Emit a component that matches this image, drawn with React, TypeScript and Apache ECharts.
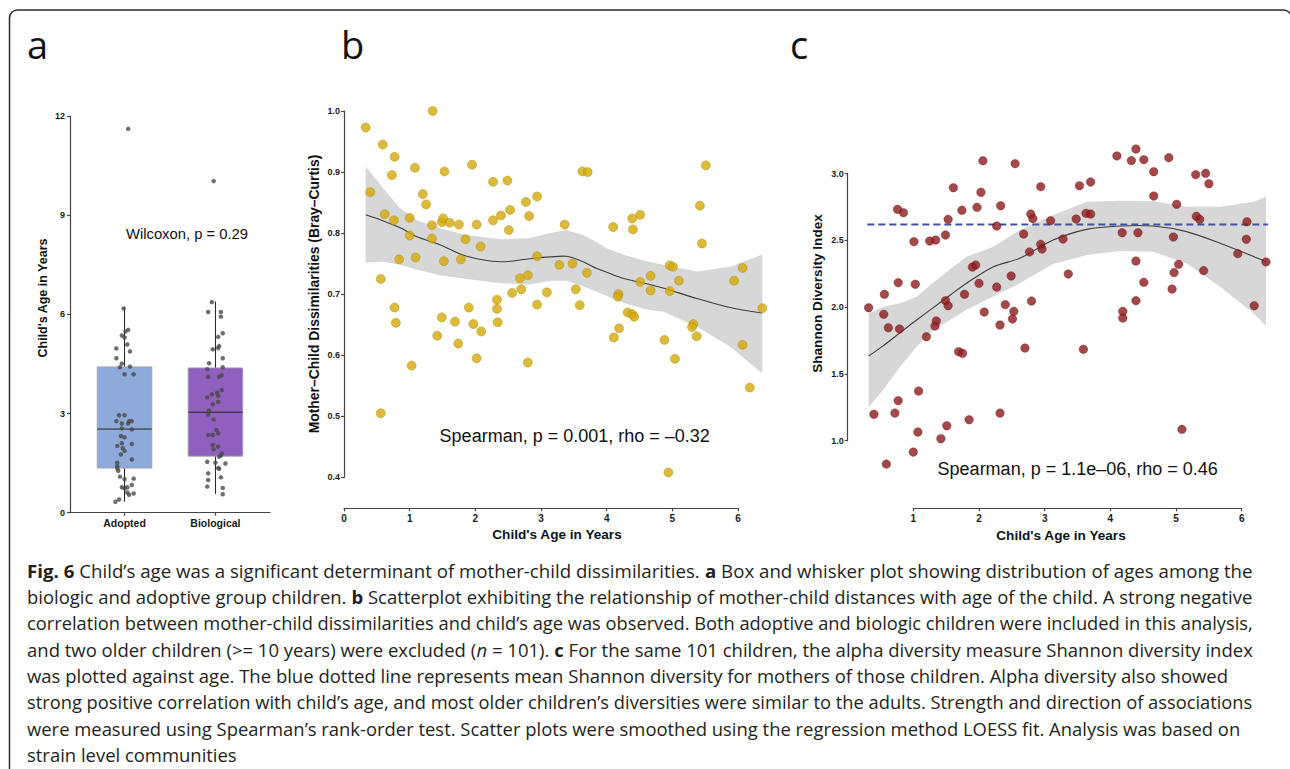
import React, { useEffect, useRef } from 'react';
import * as echarts from 'echarts';

// ---------- Panel a: child's age by group ----------
const groupCats = ['Adopted', 'Biological'];
// [position, lower whisker, Q1, median, Q3, upper whisker]
const boxStats = [
  [1, 0.33, 1.35, 2.53, 4.41, 6.21],
  [2, 0.57, 1.71, 3.04, 4.38, 6.39],
];
const boxColors = ['#8EAADB', '#9160BF'];
const adoptedPts = [
  [0.99, 6.18], [1.04, 5.53], [1.01, 5.48], [0.97, 5.36], [1.0, 5.3], [1.03, 5.09], [0.91, 4.97], [1.06, 4.88],
  [0.91, 4.67], [0.97, 4.51], [0.95, 4.4], [1.06, 4.42], [1.0, 4.19], [1.1, 4.19], [0.94, 2.95], [1.0, 2.95],
  [0.91, 2.77], [0.97, 2.7], [1.04, 2.7], [1.05, 2.77], [1.08, 2.77], [0.97, 2.55], [1.08, 2.52], [0.96, 2.32],
  [1.0, 2.28], [1.08, 2.08], [0.97, 2.1], [0.92, 2.02], [0.98, 1.95], [1.0, 1.87], [0.96, 1.76], [1.08, 1.61],
  [0.92, 1.51], [0.92, 1.41], [0.92, 1.34], [0.93, 1.27], [0.95, 1.09], [1.0, 1.01], [1.1, 1.03], [0.97, 0.77],
  [1.0, 0.74], [1.03, 0.77], [1.08, 0.84], [1.03, 0.61], [1.1, 0.58], [1.05, 0.54], [0.94, 0.4], [0.9, 0.33],
  [1.04, 11.61],
];
const biologicalPts = [
  [1.96, 6.37], [1.92, 6.07], [2.06, 6.07], [2.06, 5.93], [2.08, 5.43], [2.03, 5.32], [2.04, 5.04], [2.03, 4.98],
  [1.97, 4.94], [2.08, 4.67], [1.93, 4.52], [1.91, 4.34], [2.08, 4.4], [2.07, 4.16], [2.04, 4.11], [1.92, 4.11],
  [2.07, 3.71], [2.02, 3.63], [2.03, 3.53], [1.96, 3.58], [1.91, 3.49], [2.03, 3.35], [1.97, 3.28], [1.93, 3.09],
  [1.92, 2.97], [1.98, 2.82], [2.01, 2.5], [2.03, 2.4], [1.92, 2.35], [1.97, 2.35], [1.97, 2.05], [2.03, 2.0],
  [1.98, 1.92], [2.07, 1.79], [2.06, 1.73], [2.04, 1.69], [1.91, 1.54], [2.0, 1.51], [2.11, 1.49], [2.03, 1.35],
  [2.04, 1.33], [1.92, 1.19], [1.92, 0.99], [2.06, 1.07], [1.91, 0.79], [2.08, 0.75], [2.08, 0.56], [1.98, 10.03],
];
const ageTicksA = [0, 3, 6, 9, 12];

// ---------- Panel b: mother-child dissimilarity vs age ----------
const dissimPts = [
  [0.33, 0.973], [0.4, 0.867], [0.59, 0.945], [0.77, 0.925], [0.73, 0.895], [0.62, 0.831], [0.76, 0.821], [0.56, 0.725],
  [0.84, 0.757], [0.77, 0.678], [1.08, 0.907], [1.2, 0.864], [1.25, 0.847], [1.0, 0.825], [1.0, 0.796], [1.09, 0.76],
  [1.35, 1.0], [1.53, 0.901], [1.34, 0.813], [1.34, 0.791], [1.49, 0.818], [1.51, 0.824], [1.61, 0.817], [1.52, 0.754],
  [1.75, 0.814], [1.85, 0.79], [1.95, 0.912], [1.78, 0.757], [2.02, 0.814], [2.08, 0.778], [1.9, 0.678], [2.27, 0.884],
  [2.27, 0.821], [2.39, 0.829], [2.49, 0.886], [2.53, 0.838], [2.51, 0.805], [2.33, 0.691], [2.33, 0.676], [2.56, 0.702],
  [2.68, 0.726], [2.7, 0.708], [2.8, 0.731], [2.77, 0.851], [2.82, 0.828], [2.94, 0.86], [2.94, 0.762], [2.94, 0.683],
  [3.63, 0.901], [3.71, 0.9], [3.36, 0.814], [3.28, 0.748], [3.48, 0.75], [3.7, 0.735], [3.53, 0.708], [3.09, 0.703],
  [3.59, 0.682], [4.1, 0.81], [4.39, 0.824], [4.51, 0.83], [4.4, 0.806], [4.51, 0.72], [4.67, 0.73], [4.67, 0.706],
  [4.96, 0.747], [5.01, 0.745], [5.1, 0.722], [4.96, 0.705], [4.18, 0.7], [4.17, 0.696], [5.42, 0.845], [5.51, 0.911],
  [5.45, 0.783], [5.94, 0.722], [6.07, 0.743], [6.37, 0.677], [4.32, 0.67], [4.39, 0.667], [4.42, 0.663], [4.19, 0.644],
  [4.11, 0.629], [4.88, 0.625], [5.04, 0.594], [5.32, 0.651], [5.3, 0.646], [5.37, 0.631], [6.07, 0.617], [6.18, 0.547],
  [4.94, 0.408], [0.79, 0.653], [1.03, 0.583], [0.56, 0.505], [1.42, 0.632], [1.49, 0.662], [1.74, 0.619], [1.69, 0.655],
  [1.97, 0.651], [2.09, 0.639], [2.02, 0.595], [2.34, 0.654], [2.8, 0.588],
];
const loessBX = [0.33, 0.6, 0.85, 1.11, 1.46, 1.87, 2.38, 2.83, 3.14, 3.39, 3.64, 3.85, 4.0, 4.25, 4.61, 4.86, 5.37, 5.88, 6.37];
const loessBMid = [0.83, 0.82, 0.809, 0.794, 0.781, 0.762, 0.753, 0.758, 0.761, 0.762, 0.753, 0.742, 0.736, 0.726, 0.717, 0.71, 0.693, 0.678, 0.669];
const loessBHigh = [0.909, 0.873, 0.841, 0.821, 0.808, 0.797, 0.79, 0.792, 0.8, 0.805, 0.797, 0.785, 0.775, 0.765, 0.754, 0.748, 0.737, 0.745, 0.765];
const loessBLow = [0.752, 0.753, 0.748, 0.74, 0.731, 0.725, 0.718, 0.716, 0.722, 0.722, 0.713, 0.704, 0.697, 0.686, 0.675, 0.671, 0.647, 0.614, 0.57];

// ---------- Panel c: Shannon diversity vs age ----------
const shannonPts = [
  [0.32, 1.996], [0.56, 2.097], [0.55, 1.947], [0.62, 1.846], [0.79, 1.837], [0.76, 2.733], [0.85, 2.708], [0.77, 2.184],
  [1.01, 2.491], [1.03, 2.172], [1.25, 2.496], [1.34, 2.503], [1.49, 2.541], [1.53, 2.658], [1.61, 2.895], [1.49, 2.049],
  [1.53, 2.011], [1.35, 1.897], [1.33, 1.859], [1.2, 1.779], [1.74, 2.726], [1.78, 2.097], [1.9, 2.301], [1.95, 2.316],
  [2.0, 2.179], [2.08, 1.964], [1.97, 2.748], [2.03, 2.861], [2.06, 3.097], [2.27, 2.608], [2.33, 2.76], [2.27, 2.151],
  [2.4, 2.019], [2.32, 1.867], [2.49, 2.234], [2.53, 1.969], [2.51, 1.912], [2.55, 3.075], [2.68, 2.548], [2.79, 2.698],
  [2.82, 2.663], [2.77, 2.414], [2.8, 2.046], [2.7, 1.694], [1.69, 1.667], [1.75, 1.655], [1.08, 1.372], [0.77, 1.3],
  [0.72, 1.207], [0.4, 1.198], [1.07, 1.065], [1.51, 1.112], [1.42, 1.015], [1.0, 0.915], [0.59, 0.825], [1.85, 1.157],
  [2.32, 1.207], [2.94, 2.903], [2.94, 2.471], [2.96, 2.436], [3.09, 2.648], [3.28, 2.511], [3.36, 2.249], [3.48, 2.661],
  [3.53, 2.91], [3.63, 2.703], [3.7, 2.698], [3.7, 2.938], [4.1, 3.133], [4.32, 3.098], [4.39, 3.185], [4.51, 3.105],
  [4.89, 3.12], [4.66, 3.015], [4.66, 2.833], [5.01, 2.771], [5.3, 2.993], [5.45, 3.003], [5.5, 2.925], [5.31, 2.681],
  [5.36, 2.658], [4.18, 2.558], [4.42, 2.558], [4.96, 2.526], [6.08, 2.64], [6.07, 2.509], [5.94, 2.401], [4.39, 2.346],
  [5.04, 2.321], [4.97, 2.259], [5.42, 2.274], [4.51, 2.186], [4.94, 2.136], [4.39, 2.049], [4.19, 1.969], [4.19, 1.919],
  [6.19, 2.011], [3.59, 1.685], [5.09, 1.085], [6.37, 2.339],
];
const loessCX = [0.32, 0.54, 0.8, 1.05, 1.3, 1.56, 1.81, 2.22, 2.62, 3.13, 3.64, 4.15, 4.65, 5.16, 5.67, 6.18, 6.37];
const loessCMid = [1.634, 1.71, 1.81, 1.904, 1.995, 2.09, 2.179, 2.303, 2.366, 2.503, 2.583, 2.608, 2.608, 2.566, 2.479, 2.38, 2.34];
const loessCHigh = [1.954, 2.004, 2.029, 2.079, 2.183, 2.285, 2.378, 2.453, 2.578, 2.691, 2.79, 2.798, 2.796, 2.753, 2.753, 2.79, 2.83];
const loessCLow = [1.25, 1.38, 1.554, 1.704, 1.829, 1.904, 1.98, 2.08, 2.179, 2.324, 2.391, 2.421, 2.416, 2.329, 2.154, 1.954, 1.86];
const motherMeanShannon = 2.62;
const meanLineRange = [0.3, 6.4];

// ---------- Caption ----------
const captionLines = [
  '{b|Fig. 6} Child’s age was a significant determinant of mother-child dissimilarities. {b|a} Box and whisker plot showing distribution of ages among the',
  'biologic and adoptive group children. {b|b} Scatterplot exhibiting the relationship of mother-child distances with age of the child. A strong negative',
  'correlation between mother-child dissimilarities and child’s age was observed. Both adoptive and biologic children were included in this analysis,',
  'and two older children (>= 10 years) were excluded ({i|n} = 101). {b|c} For the same 101 children, the alpha diversity measure Shannon diversity index',
  'was plotted against age. The blue dotted line represents mean Shannon diversity for mothers of those children. Alpha diversity also showed',
  'strong positive correlation with child’s age, and most older children’s diversities were similar to the adults. Strength and direction of associations',
  'were measured using Spearman’s rank-order test. Scatter plots were smoothed using the regression method LOESS fit. Analysis was based on',
  'strain level communities',
];
const captionRightEdges = [1253, 1253, 1254, 1253, 1228, 1253, 1241, 0];

const CAP_FONT = 'Open Sans';
const CAP_SIZE = 17.5;
const AX_FONT = 'Liberation Sans';

function measureLine(ctx: CanvasRenderingContext2D, line: string): number {
  let total = 0;
  const re = /\{(b|i)\|([^}]*)\}/g;
  let last = 0;
  let m: RegExpExecArray | null;
  const seg = (t: string, style: string) => {
    ctx.font = `${style} ${CAP_SIZE}px "${CAP_FONT}"`;
    total += ctx.measureText(t).width;
  };
  while ((m = re.exec(line))) {
    if (m.index > last) seg(line.slice(last, m.index), 'normal');
    seg(m[2], m[1] === 'b' ? 'bold' : 'italic');
    last = m.index + m[0].length;
  }
  if (last < line.length) seg(line.slice(last), 'normal');
  return total;
}

const axisLineStyle = { color: '#444', width: 1.2 };
const tickLabel = { color: '#1a1a1a', fontWeight: 'bold' as const, fontFamily: AX_FONT, fontSize: 9.5 };

export default function App() {
  const ref = useRef<HTMLDivElement>(null);
  useEffect(() => {
    if (!ref.current) return;
    const chart = echarts.init(ref.current, undefined, { renderer: 'svg' });

    const canvas = document.createElement('canvas');
    const ctx = canvas.getContext('2d')!;
    const natural = captionLines.map((l) => measureLine(ctx, l));
    const scales = captionLines.map((l, i) => {
      const r = captionRightEdges[i];
      return r > 0 ? (r - 27) / natural[i] : 0;
    });
    const valid = scales.filter((s) => s > 0);
    const avgScale = valid.reduce((a, b) => a + b, 0) / valid.length;

    const captionGraphics = captionLines.map((line, i) => ({
      type: 'text',
      x: 27,
      y: 571 + i * 26.3,
      scaleX: scales[i] > 0 ? scales[i] : avgScale,
      style: {
        text: line,
        fontFamily: CAP_FONT,
        fontSize: CAP_SIZE,
        fill: '#231f20',
        align: 'left',
        verticalAlign: 'middle',
        rich: {
          b: { fontWeight: 'bold', fontFamily: CAP_FONT, fontSize: CAP_SIZE, fill: '#231f20' },
          i: { fontStyle: 'italic', fontFamily: CAP_FONT, fontSize: CAP_SIZE, fill: '#231f20' },
        },
      },
    }));

    const bandRender = (xs: number[], lo: number[], hi: number[]) => (params: any, api: any) => {
      const pts: number[][] = [];
      xs.forEach((x, i) => pts.push(api.coord([x, hi[i]])));
      for (let i = xs.length - 1; i >= 0; i--) pts.push(api.coord([xs[i], lo[i]]));
      return { type: 'polygon', shape: { points: pts }, style: { fill: '#D7D7D7' } };
    };
    const lineRender = (xs: number[], ys: number[], style: any, smooth: number) => (params: any, api: any) => ({
      type: 'polyline',
      shape: { points: xs.map((x, i) => api.coord([x, ys[i]])), smooth },
      style: { fill: 'none', ...style },
    });

    const option: any = {
      animation: false,
      backgroundColor: '#ffffff',
      grid: [
        { left: 70, top: 116, width: 200, height: 396.7 },
        { left: 344, top: 111, width: 394, height: 366.3 },
        { left: 913.3, top: 173.7, width: 328.4, height: 267 },
      ],
      xAxis: [
        {
          gridIndex: 0, type: 'value', min: 0.4, max: 2.6,
          axisLine: { lineStyle: axisLineStyle },
          axisTick: { show: true, length: 3, lineStyle: axisLineStyle, customValues: [1, 2] },
          axisLabel: { ...tickLabel, fontSize: 10.5, margin: 5, customValues: [1, 2], formatter: (v: number) => groupCats[Math.round(v) - 1] ?? '' },
          splitLine: { show: false },
        },
        {
          gridIndex: 1, type: 'value', min: 0, max: 6, interval: 1, offset: 31,
          axisLine: { lineStyle: axisLineStyle },
          axisTick: { length: 3, lineStyle: axisLineStyle },
          axisLabel: { ...tickLabel, fontSize: 10, margin: 5 },
          splitLine: { show: false },
        },
        {
          gridIndex: 2, type: 'value', min: 1, max: 6, interval: 1, offset: 67.6,
          axisLine: { lineStyle: axisLineStyle },
          axisTick: { length: 3, lineStyle: axisLineStyle },
          axisLabel: { ...tickLabel, fontSize: 10, margin: 5 },
          splitLine: { show: false },
        },
      ],
      yAxis: [
        {
          gridIndex: 0, type: 'value', min: 0, max: 12, interval: 3,
          axisLine: { show: true, lineStyle: axisLineStyle },
          axisTick: { show: true, length: 3, lineStyle: axisLineStyle },
          axisLabel: { ...tickLabel, fontSize: 9, margin: 5, formatter: (v: number) => (ageTicksA.includes(v) ? String(v) : '') },
          splitLine: { show: false },
        },
        {
          gridIndex: 1, type: 'value', min: 0.4, max: 1.0, interval: 0.1,
          axisLine: { show: true, lineStyle: axisLineStyle },
          axisTick: { show: true, length: 3, lineStyle: axisLineStyle },
          axisLabel: { ...tickLabel, fontSize: 9, margin: 4, formatter: (v: number) => v.toFixed(1) },
          splitLine: { show: false },
        },
        {
          gridIndex: 2, type: 'value', min: 1, max: 3, interval: 0.5, offset: 65.6,
          axisLine: { show: true, lineStyle: axisLineStyle },
          axisTick: { show: true, length: 3, lineStyle: axisLineStyle },
          axisLabel: { ...tickLabel, fontSize: 9, margin: 4, formatter: (v: number) => v.toFixed(1) },
          splitLine: { show: false },
        },
      ],
      series: [
        // Panel a boxes
        {
          type: 'custom', xAxisIndex: 0, yAxisIndex: 0, z: 2, silent: true,
          data: boxStats,
          encode: { x: 0, y: [1, 2, 3, 4, 5] },
          renderItem: (params: any, api: any) => {
            const pos = api.value(0);
            const lo = api.coord([pos, api.value(1)]);
            const q1 = api.coord([pos, api.value(2)]);
            const med = api.coord([pos, api.value(3)]);
            const q3 = api.coord([pos, api.value(4)]);
            const hi = api.coord([pos, api.value(5)]);
            const w = api.size([0.6, 0])[0];
            const x0 = q1[0] - w / 2;
            return {
              type: 'group',
              children: [
                { type: 'line', shape: { x1: hi[0], y1: hi[1], x2: q3[0], y2: q3[1] }, style: { stroke: '#222', lineWidth: 1 } },
                { type: 'line', shape: { x1: lo[0], y1: lo[1], x2: q1[0], y2: q1[1] }, style: { stroke: '#222', lineWidth: 1 } },
                {
                  type: 'rect',
                  shape: { x: x0, y: q3[1], width: w, height: q1[1] - q3[1] },
                  style: { fill: boxColors[params.dataIndex], stroke: 'rgba(160,160,170,0.9)', lineWidth: 1 },
                },
                { type: 'line', shape: { x1: x0, y1: med[1], x2: x0 + w, y2: med[1] }, style: { stroke: '#222', lineWidth: 1 } },
              ],
            };
          },
        },
        {
          type: 'scatter', xAxisIndex: 0, yAxisIndex: 0, z: 3, silent: true,
          data: [...adoptedPts, ...biologicalPts],
          symbolSize: 4.5,
          itemStyle: { color: '#4a4a4a' },
        },
        // Panel b
        {
          type: 'custom', xAxisIndex: 1, yAxisIndex: 1, z: 1, clip: false, silent: true,
          data: [[loessBX[0], loessBMid[0]]],
          renderItem: bandRender(loessBX, loessBLow, loessBHigh),
        },
        {
          type: 'custom', xAxisIndex: 1, yAxisIndex: 1, z: 2, clip: false, silent: true,
          data: [[loessBX[0], loessBMid[0]]],
          renderItem: lineRender(loessBX, loessBMid, { stroke: '#3d3d3d', lineWidth: 1.1 }, 0.3),
        },
        {
          type: 'scatter', xAxisIndex: 1, yAxisIndex: 1, z: 3, clip: false, silent: true,
          data: dissimPts,
          symbolSize: 9,
          itemStyle: { color: '#D2AA08', borderColor: '#AF8E12', borderWidth: 0.6 },
        },
        // Panel c
        {
          type: 'custom', xAxisIndex: 2, yAxisIndex: 2, z: 1, clip: false, silent: true,
          data: [[loessCX[0], loessCMid[0]]],
          renderItem: bandRender(loessCX, loessCLow, loessCHigh),
        },
        {
          type: 'custom', xAxisIndex: 2, yAxisIndex: 2, z: 2, clip: false, silent: true,
          data: [[loessCX[0], loessCMid[0]]],
          renderItem: lineRender(loessCX, loessCMid, { stroke: '#3d3d3d', lineWidth: 1.1 }, 0.3),
        },
        {
          type: 'custom', xAxisIndex: 2, yAxisIndex: 2, z: 2, clip: false, silent: true,
          data: [[meanLineRange[0], motherMeanShannon]],
          renderItem: lineRender(meanLineRange, meanLineRange.map(() => motherMeanShannon), { stroke: '#3F51A8', lineWidth: 2, lineDash: [7, 4] }, 0),
        },
        {
          type: 'scatter', xAxisIndex: 2, yAxisIndex: 2, z: 3, clip: false, silent: true,
          data: shannonPts,
          symbolSize: 8.5,
          itemStyle: { color: '#8C1B1B', borderColor: '#701414', borderWidth: 0.5 },
        },
      ],
      graphic: [
        {
          type: 'rect', silent: true,
          shape: { x: 9.5, y: 10, width: 1282, height: 800, r: 8 },
          style: { fill: 'none', stroke: '#2a2a2a', lineWidth: 1.5 },
        },
        { type: 'text', x: 27, y: 44, style: { text: 'a', fontFamily: CAP_FONT, fontSize: 38, fill: '#111', verticalAlign: 'middle' } },
        { type: 'text', x: 341, y: 44, style: { text: 'b', fontFamily: CAP_FONT, fontSize: 38, fill: '#111', verticalAlign: 'middle' } },
        { type: 'text', x: 790, y: 44, style: { text: 'c', fontFamily: CAP_FONT, fontSize: 38, fill: '#111', verticalAlign: 'middle' } },
        // annotations
        { type: 'text', x: 187, y: 234, style: { text: 'Wilcoxon, p = 0.29', fontFamily: AX_FONT, fontSize: 14.8, fill: '#111', align: 'center', verticalAlign: 'middle' } },
        { type: 'text', x: 574.7, y: 435.7, style: { text: 'Spearman, p = 0.001, rho = –0.32', fontFamily: AX_FONT, fontSize: 18, fill: '#111', align: 'center', verticalAlign: 'middle' } },
        { type: 'text', x: 1077.7, y: 469, style: { text: 'Spearman, p = 1.1e–06, rho = 0.46', fontFamily: AX_FONT, fontSize: 18, fill: '#111', align: 'center', verticalAlign: 'middle' } },
        // axis titles
        { type: 'text', x: 43, y: 298, rotation: Math.PI / 2, style: { text: "Child's Age in Years", fontFamily: AX_FONT, fontWeight: 'bold', fontSize: 12.5, fill: '#111', align: 'center', verticalAlign: 'middle' } },
        { type: 'text', x: 314, y: 294, rotation: Math.PI / 2, style: { text: 'Mother–Child Dissimilarities (Bray–Curtis)', fontFamily: AX_FONT, fontWeight: 'bold', fontSize: 13.9, fill: '#111', align: 'center', verticalAlign: 'middle' } },
        { type: 'text', x: 817.5, y: 293.5, rotation: Math.PI / 2, style: { text: 'Shannon Diversity Index', fontFamily: AX_FONT, fontWeight: 'bold', fontSize: 13.6, fill: '#111', align: 'center', verticalAlign: 'middle' } },
        { type: 'text', x: 557, y: 534, style: { text: "Child's Age in Years", fontFamily: AX_FONT, fontWeight: 'bold', fontSize: 13.6, fill: '#111', align: 'center', verticalAlign: 'middle' } },
        { type: 'text', x: 1061, y: 535, style: { text: "Child's Age in Years", fontFamily: AX_FONT, fontWeight: 'bold', fontSize: 13.6, fill: '#111', align: 'center', verticalAlign: 'middle' } },
        ...captionGraphics,
      ],
    };
    chart.setOption(option);
    return () => chart.dispose();
  }, []);

  return <div ref={ref} style={{ position: 'absolute', left: 0, top: 0, width: 1290, height: 769 }} />;
}
